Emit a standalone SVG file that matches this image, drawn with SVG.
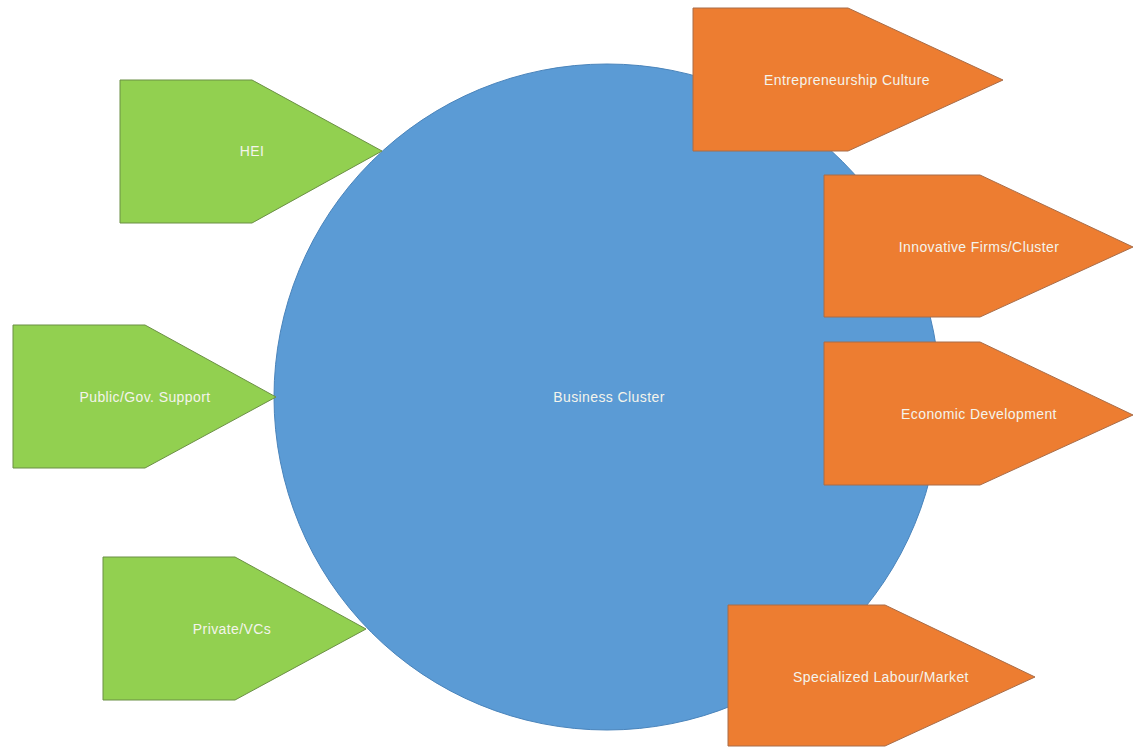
<svg xmlns="http://www.w3.org/2000/svg" width="1144" height="749" viewBox="0 0 1144 749">
  <style>
    .hub { fill: #5b9bd5; stroke: #4a84bb; stroke-width: 1; }
    .input { fill: #92d050; stroke: #6b8f45; stroke-width: 1; }
    .output { fill: #ed7d31; stroke: #a86c48; stroke-width: 1; }
    .label { font-family: "Liberation Sans", Arial, sans-serif; font-size: 14px; letter-spacing: 0.4px; fill: #f4f4ec; text-anchor: middle; }
  </style>
  <rect x="0" y="0" width="1144" height="749" fill="#ffffff"/>

  <!-- central cluster -->
  <g id="business-cluster">
    <circle class="hub" cx="607" cy="397" r="333"/>
    <text class="label" x="609" y="402">Business Cluster</text>
  </g>

  <!-- contributing actors (left) -->
  <g id="hei">
    <polygon class="input" points="120,80 252,80 382,151 252,223 120,223"/>
    <text class="label" x="252" y="156">HEI</text>
  </g>
  <g id="public-gov-support">
    <polygon class="input" points="13,325 145,325 276,397 145,468 13,468"/>
    <text class="label" x="145" y="402">Public/Gov. Support</text>
  </g>
  <g id="private-vcs">
    <polygon class="input" points="103,557 235,557 366,629 235,700 103,700"/>
    <text class="label" x="232" y="634">Private/VCs</text>
  </g>

  <!-- outcomes (right) -->
  <g id="entrepreneurship-culture">
    <polygon class="output" points="693,8 848,8 1003,80 848,151 693,151"/>
    <text class="label" x="847" y="85">Entrepreneurship Culture</text>
  </g>
  <g id="innovative-firms-cluster">
    <polygon class="output" points="824,175 980,175 1133,247 980,317 824,317"/>
    <text class="label" x="979" y="252">Innovative Firms/Cluster</text>
  </g>
  <g id="economic-development">
    <polygon class="output" points="824,342 980,342 1133,415 980,485 824,485"/>
    <text class="label" x="979" y="419">Economic Development</text>
  </g>
  <g id="specialized-labour-market">
    <polygon class="output" points="728,605 885,605 1035,677 885,746 728,746"/>
    <text class="label" x="881" y="682">Specialized Labour/Market</text>
  </g>

  <!-- no explicit connectors: shapes abut the cluster directly -->
  <g id="connectors"></g>
</svg>
